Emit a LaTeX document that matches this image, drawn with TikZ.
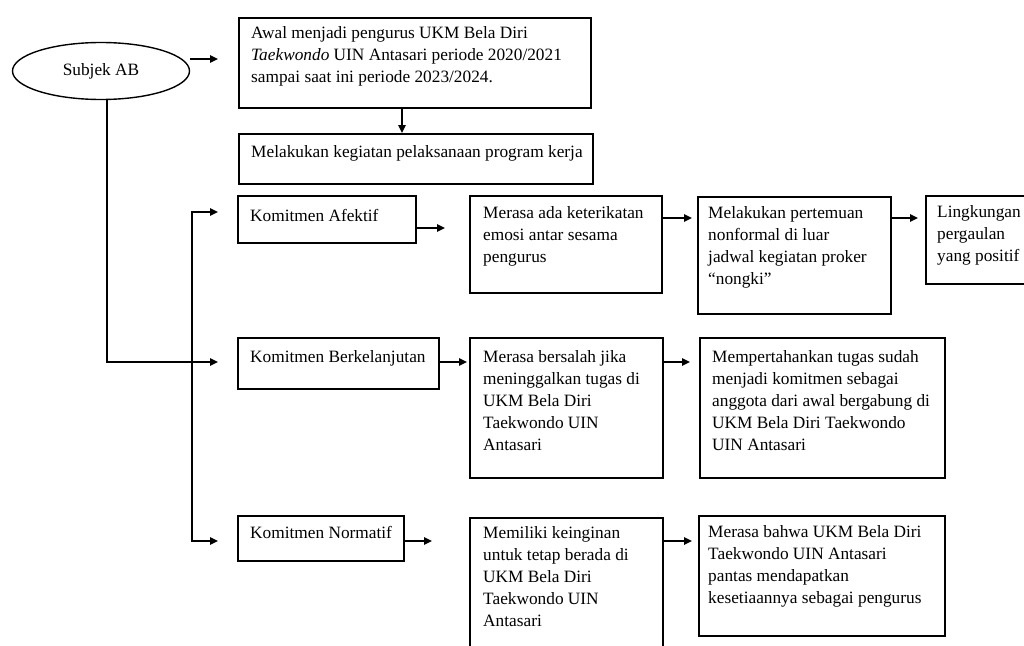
\documentclass[tikz,border=0pt]{standalone}
\usepackage{fontspec}
\setmainfont{Liberation Serif}
\usetikzlibrary{shapes.geometric,arrows.meta,calc}
\begin{document}
\begin{tikzpicture}[x=1pt,y=-1pt,
  box/.style={draw, line width=1.6pt, inner sep=0pt, anchor=north west},
  txt/.style={anchor=base west, inner sep=0pt, font=\fontsize{17.3}{22}\selectfont},
  tip/.style={Triangle[length=8pt,width=7.5pt]},
  arr/.style={line width=1.6pt, -{Triangle[length=8pt,width=7.5pt]}},
  line/.style={line width=1.6pt}
]
\useasboundingbox (0,0) rectangle (1024,645);
\clip (0,0) rectangle (1024,645);
\fill[white] (0,0) rectangle (1024,645);

% ellipse
\node[draw, line width=1.4pt, ellipse, minimum width=177pt, minimum height=57pt, inner sep=0pt,
      font=\fontsize{17.3}{22}\selectfont] (e) at (101,71) {Subjek AB};

% boxes
\node[box, minimum width=352pt, minimum height=90pt]  (b1)  at (238,17)  {};
\node[box, minimum width=354pt, minimum height=50pt]  (b2)  at (238,133) {};
\node[box, minimum width=178pt, minimum height=47pt]  (ka)  at (237,195) {};
\node[box, minimum width=192pt, minimum height=97pt]  (a1)  at (469,195) {};
\node[box, minimum width=193pt, minimum height=117pt] (a2)  at (697,196) {};
\node[box, minimum width=130pt, minimum height=88pt]  (a3)  at (925,195) {};
\node[box, minimum width=201pt, minimum height=51pt]  (kb)  at (237,337) {};
\node[box, minimum width=193pt, minimum height=140pt] (bb1) at (469,337) {};
\node[box, minimum width=245pt, minimum height=140pt] (bb2) at (699,337) {};
\node[box, minimum width=166pt, minimum height=45pt]  (kn)  at (237,515) {};
\node[box, minimum width=193pt, minimum height=160pt] (n1)  at (469,517) {};
\node[box, minimum width=246pt, minimum height=120pt] (n2)  at (698,515) {};

% texts
\node[txt] (b1t) at (251,38) {\parbox[t]{400pt}{\raggedright Awal menjadi pengurus UKM Bela Diri\\ \textit{Taekwondo} UIN Antasari periode 2020/2021\\ sampai saat ini periode 2023/2024.}};
\node[txt] (b2t) at (251,157) {Melakukan kegiatan pelaksanaan program kerja};
\node[txt] (kat) at (250,221) {Komitmen Afektif};
\node[txt] (a1t) at (483,218) {\parbox[t]{300pt}{\raggedright Merasa ada keterikatan\\ emosi antar sesama\\ pengurus}};
\node[txt] (a2t) at (708,218) {\parbox[t]{300pt}{\raggedright Melakukan pertemuan\\ nonformal di luar\\ jadwal kegiatan proker\\ “nongki”}};
\node[txt] (a3t) at (937,217) {\parbox[t]{300pt}{\raggedright Lingkungan\\ pergaulan\\ yang positif}};
\node[txt] (kbt) at (250,362) {Komitmen Berkelanjutan};
\node[txt] (bb1t) at (483,362) {\parbox[t]{300pt}{\raggedright Merasa bersalah jika\\ meninggalkan tugas di\\ UKM Bela Diri\\ Taekwondo UIN\\ Antasari}};
\node[txt] (bb2t) at (712,362) {\parbox[t]{300pt}{\raggedright Mempertahankan tugas sudah\\ menjadi komitmen sebagai\\ anggota dari awal bergabung di\\ UKM Bela Diri Taekwondo\\ UIN Antasari}};
\node[txt] (knt) at (250,538) {Komitmen Normatif};
\node[txt] (n1t) at (483,538) {\parbox[t]{300pt}{\raggedright Memiliki keinginan\\ untuk tetap berada di\\ UKM Bela Diri\\ Taekwondo UIN\\ Antasari}};
\node[txt] (n2t) at (708,537) {\parbox[t]{300pt}{\raggedright Merasa bahwa UKM Bela Diri\\ Taekwondo UIN Antasari\\ pantas mendapatkan\\ kesetiaannya sebagai pengurus}};

% connector end points
\coordinate (eTip)  at (218,59);
\coordinate (dx)    at (402,0);
\coordinate (kaIn)  at (218,212);
\coordinate (kbIn)  at (218,362);
\coordinate (knIn)  at (218,541);
\coordinate (kaOut) at (445,228);
\coordinate (a1Out) at (692,218);
\coordinate (a2Out) at (918,218);
\coordinate (kbOut) at (467,362);
\coordinate (bbOut) at (690,362);
\coordinate (knOut) at (432,541);
\coordinate (n1Out) at (692,541);

% connectors
\draw[arr] (e.east |- eTip) -- (eTip);
\draw[arr] (b1.south -| dx) -- (b2.north -| dx);
\draw[arr] ([xshift=6pt]e.south) |- (kbIn);
\draw[line, {Triangle[length=8pt,width=7.5pt]}-{Triangle[length=8pt,width=7.5pt]}] (kaIn) -- ++(-26,0) |- (knIn);
\draw[arr] (ka.east |- kaOut) -- (kaOut);
\draw[arr] (a1.east |- a1Out) -- (a1Out);
\draw[arr] (a2.east |- a2Out) -- (a2Out);
\draw[arr] (kb.east |- kbOut) -- (kbOut);
\draw[arr] (bb1.east |- bbOut) -- (bbOut);
\draw[arr] (kn.east |- knOut) -- (knOut);
\draw[arr] (n1.east |- n1Out) -- (n1Out);
\end{tikzpicture}
\end{document}
